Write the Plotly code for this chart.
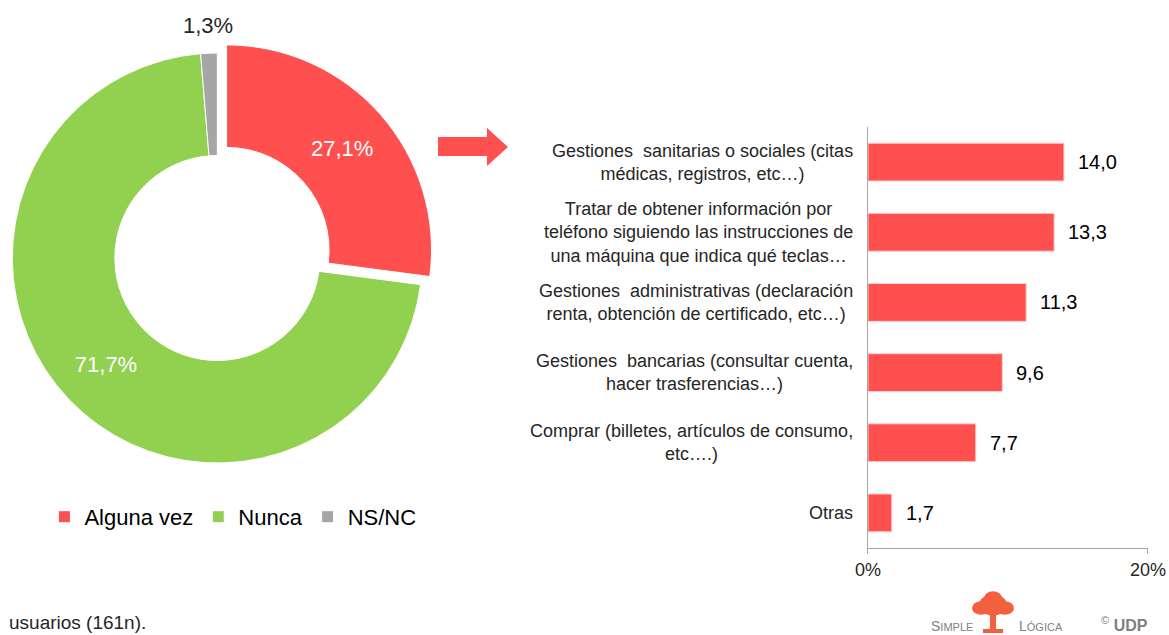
"""Uso de servicios telefonicos automatizados: donut + barras."""

import plotly.graph_objects as go

FONT = "Arial, Liberation Sans, sans-serif"
RED = "#FF5050"
GREEN = "#92D050"
GREY = "#A6A6A6"
TXT = "#262626"

# --- Datos ---
pie_labels = ["Alguna vez", "Nunca", "NS/NC"]
pie_values = [27.1, 71.7, 1.3]
pie_colors = [RED, GREEN, GREY]

bar_labels = [
    "Gestiones  sanitarias o sociales (citas<br>médicas, registros, etc…)",
    "Tratar de obtener información por<br>teléfono siguiendo las instrucciones de<br>una máquina que indica qué teclas…",
    "Gestiones  administrativas (declaración<br>renta, obtención de certificado, etc…)",
    "Gestiones  bancarias (consultar cuenta,<br>hacer trasferencias…)",
    "Comprar (billetes, artículos de consumo,<br>etc….)",
    "Otras",
]
bar_values = [14.0, 13.3, 11.3, 9.6, 7.7, 1.7]

x_tickvals = [0, 20]
x_ticktext = ["0%", "20%"]

W, H = 1169, 635


def px(x, y):
    """Pixel -> paper."""
    return x / W, 1 - y / H


def fmt(v):
    return f"{v:.1f}".replace(".", ",")


fig = go.Figure()

# --- Donut ---
# la etiqueta de NS/NC va fuera, como anotacion
fig.add_trace(go.Pie(
    labels=pie_labels, values=pie_values,
    marker=dict(colors=pie_colors, line=dict(color="white", width=1)),
    hole=0.5, sort=False, direction="clockwise", rotation=0,
    pull=[0.06, 0, 0],
    text=[fmt(v) + "%" for v in pie_values],
    textinfo="text",
    textposition=["inside", "inside", "none"],
    insidetextorientation="horizontal",
    textfont=dict(family=FONT, size=22, color="white"),
    domain=dict(x=[0, 0.3718], y=[0.2515, 0.9359]),
    automargin=False,
    hoverinfo="label+value",
))

# --- Barras ---
fig.add_trace(go.Bar(
    x=bar_values, y=bar_labels, orientation="h",
    marker=dict(color=RED, line=dict(color="#FFD0D0", width=1)),
    showlegend=False, xaxis="x", yaxis="y",
))

annotations = []
nx, ny = px(208, 25)
annotations.append(dict(x=nx, y=ny, xref="paper", yref="paper",
                        text=fmt(pie_values[2]) + "%", showarrow=False,
                        xanchor="center", yanchor="middle",
                        font=dict(family=FONT, size=22, color=TXT)))

for lab, val in zip(bar_labels, bar_values):
    annotations.append(dict(
        x=0.7314, xref="paper", y=lab, yref="y",
        text=lab, showarrow=False, xanchor="right", align="center",
        font=dict(family=FONT, size=18, color=TXT),
    ))
    annotations.append(dict(
        x=val, xref="x", y=lab, yref="y",
        text=fmt(val), showarrow=False,
        xanchor="left", xshift=12,
        font=dict(family=FONT, size=20, color="black"),
    ))

# pie de pagina
fx, fy = px(7, 622)
annotations.append(dict(x=fx, y=fy, xref="paper", yref="paper", text="usuarios (161n).",
                        showarrow=False, xanchor="left", yanchor="middle",
                        font=dict(family=FONT, size=19, color=TXT)))
lx, ly = px(952, 626)
annotations.append(dict(x=lx, y=ly, xref="paper", yref="paper", text="S<span style='font-size:11px'>IMPLE</span>",
                        showarrow=False, xanchor="center", yanchor="middle",
                        font=dict(family=FONT, size=14, color="#7F7F7F")))
lx, ly = px(1041, 626)
annotations.append(dict(x=lx, y=ly, xref="paper", yref="paper", text="L<span style='font-size:11px'>ÓGICA</span>",
                        showarrow=False, xanchor="center", yanchor="middle",
                        font=dict(family=FONT, size=14, color="#7F7F7F")))
lx, ly = px(1124, 624)
annotations.append(dict(x=lx, y=ly, xref="paper", yref="paper",
                        text="<sup>©</sup> <b>UDP</b>",
                        showarrow=False, xanchor="center", yanchor="middle",
                        font=dict(family=FONT, size=16, color="#7F7F7F")))

# --- Formas: flecha y arbolito del logo ---
arrow_px = [(438, 137), (487, 137), (487, 128), (508, 147), (487, 166), (487, 156), (438, 156)]
path = "M " + " L ".join(f"{px(x, y)[0]:.5f},{px(x, y)[1]:.5f}" for x, y in arrow_px) + " Z"
shapes = [dict(type="path", path=path, xref="paper", yref="paper",
               fillcolor=RED, line=dict(width=0))]

tree_color = "#F2603F"
for cx, cy, r in [(993, 605, 14), (981, 608, 9), (1005, 608, 9), (993, 598, 9)]:
    x0, y0 = px(cx - r, cy - r * 0.75)
    x1, y1 = px(cx + r, cy + r * 0.75)
    shapes.append(dict(type="circle", xref="paper", yref="paper",
                       x0=x0, x1=x1, y0=y0, y1=y1,
                       fillcolor=tree_color, line=dict(width=0)))
x0, y0 = px(990, 610)
x1, y1 = px(996, 633)
shapes.append(dict(type="rect", xref="paper", yref="paper", x0=x0, x1=x1, y0=y0, y1=y1,
                   fillcolor=tree_color, line=dict(width=0)))
x0, y0 = px(983, 629)
x1, y1 = px(1003, 633)
shapes.append(dict(type="rect", xref="paper", yref="paper", x0=x0, x1=x1, y0=y0, y1=y1,
                   fillcolor=tree_color, line=dict(width=0)))

# --- Layout ---
fig.update_layout(
    width=W, height=H, autosize=False,
    margin=dict(l=0, r=0, t=0, b=0, pad=0),
    paper_bgcolor="white", plot_bgcolor="white",
    separators=",.",
    font=dict(family=FONT, color=TXT),
    bargap=0.46,
    xaxis=dict(
        domain=[0.7425, 0.982], range=[0, 20],
        tickvals=x_tickvals, ticktext=x_ticktext,
        ticks="outside", ticklen=5, tickcolor="#A6A6A6",
        showline=True, linecolor="#A6A6A6", linewidth=1,
        showgrid=False, zeroline=False, automargin=False,
        tickfont=dict(family=FONT, size=18, color=TXT),
    ),
    yaxis=dict(
        domain=[0.137, 0.8], autorange="reversed",
        showticklabels=False, ticks="",
        showline=True, linecolor="#A6A6A6", linewidth=1,
        showgrid=False, zeroline=False, automargin=False,
    ),
    legend=dict(
        orientation="h", x=0.038, y=0.186, xanchor="left", yanchor="middle",
        font=dict(family=FONT, size=22, color="black"),
        itemwidth=30, traceorder="normal",
    ),
    annotations=annotations,
    shapes=shapes,
)

fig.write_html("out.html", config={"displayModeBar": False},
               post_script="document.body.style.margin='0';")
